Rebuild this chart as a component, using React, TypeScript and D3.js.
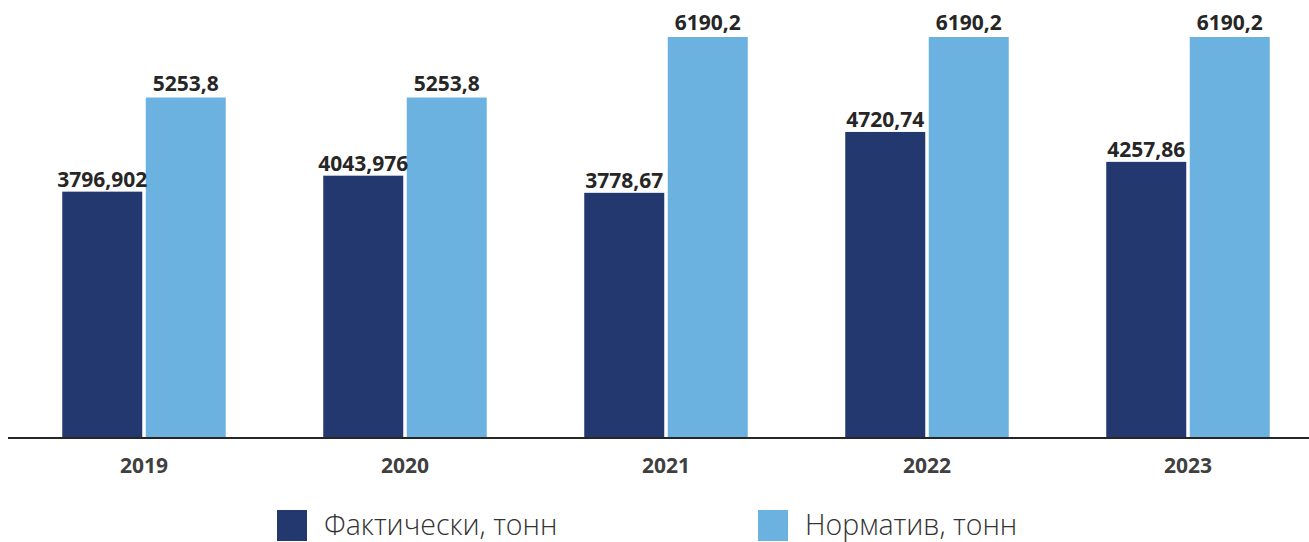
import React from "react";
import * as d3 from "d3";

const years = ["2019", "2020", "2021", "2022", "2023"];
const actual = [3796.902, 4043.976, 3778.67, 4720.74, 4257.86];
const norm = [5253.8, 5253.8, 6190.2, 6190.2, 6190.2];
const actualLabels = ["3796,902", "4043,976", "3778,67", "4720,74", "4257,86"];
const normLabels = ["5253,8", "5253,8", "6190,2", "6190,2", "6190,2"];
const seriesNames = ["Фактически, тонн", "Норматив, тонн"];
const colors = ["#22386e", "#6cb2e0"];

const W = 1309;
const H = 542;
const baseY = 437;
const topY = 37;

export default function App() {
  const x = d3.scaleBand<string>().domain(years).range([13.5, 1318.5]).paddingInner(0).paddingOuter(0);
  const y = d3.scaleLinear().domain([0, 6190.2]).range([baseY, topY]);
  const barW = 80;
  const gap = 3.5;
  const font = "'Open Sans', sans-serif";
  return (
    <svg width={W} height={H} style={{ position: "absolute", left: 0, top: 0 }}>
      <rect x={0} y={0} width={W} height={H} fill="#fff" />
      {years.map((yr, i) => {
        const c = (x(yr) as number) + x.bandwidth() / 2;
        const x1 = c - gap / 2 - barW;
        const x2 = c + gap / 2;
        return (
          <g key={yr}>
            <rect x={x1} y={y(actual[i])} width={barW} height={baseY - y(actual[i])} fill={colors[0]} />
            <rect x={x2} y={y(norm[i])} width={barW} height={baseY - y(norm[i])} fill={colors[1]} />
            <text x={x1 + barW / 2} y={y(actual[i]) - 5} textAnchor="middle" fontFamily={font} fontWeight={700} fontSize={21} fill="#262626">
              {actualLabels[i]}
            </text>
            <text x={x2 + barW / 2} y={y(norm[i]) - 7} textAnchor="middle" fontFamily={font} fontWeight={700} fontSize={21} fill="#262626">
              {normLabels[i]}
            </text>
            <text x={c} y={473} textAnchor="middle" fontFamily={font} fontWeight={700} fontSize={21} fill="#404040">
              {yr}
            </text>
          </g>
        );
      })}
      <line x1={8} x2={1309} y1={baseY + 1} y2={baseY + 1} stroke="#262626" strokeWidth={2} />
      {seriesNames.map((n, i) => {
        const lx = i === 0 ? 277 : 758;
        return (
          <g key={n}>
            <rect x={lx} y={510} width={30} height={31} fill={colors[i]} />
            <text x={lx + 47} y={535} fontFamily={font} fontWeight={300} fontSize={28.5} fill="#333">
              {n}
            </text>
          </g>
        );
      })}
    </svg>
  );
}
